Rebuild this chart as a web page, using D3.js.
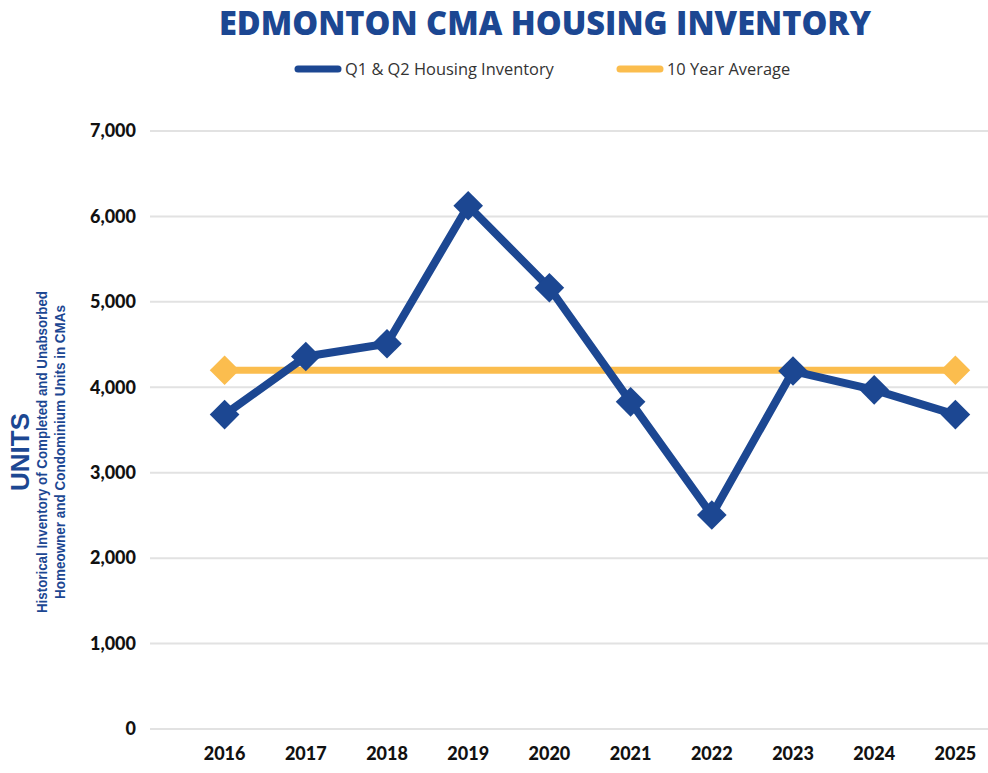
<!DOCTYPE html>
<html>
<head>
<meta charset="utf-8">
<script src="https://cdn.jsdelivr.net/npm/d3@7"></script>
<style>
  body { margin: 0; background: #fff; }
  svg { display: block; }
</style>
</head>
<body>
<div id="chart"></div>
<script>
(function () {
  'use strict';

  const years = ['2016', '2017', '2018', '2019', '2020', '2021', '2022', '2023', '2024', '2025'];
  const inventory = [3680, 4360, 4510, 6125, 5165, 3830, 2505, 4190, 3970, 3680];
  const tenYearAverage = [4200, 4200, 4200, 4200, 4200, 4200, 4200, 4200, 4200, 4200];
  const yTicks = [0, 1000, 2000, 3000, 4000, 5000, 6000, 7000];

  const BLUE = '#1c4792';
  const ORANGE = '#fbbd4e';
  const WIDTH = 988;
  const HEIGHT = 773;
  const FONT = 'Lato, "Open Sans", sans-serif';

  let svg = d3.select('#chart')
    .append('svg')
    .attr('width', WIDTH)
    .attr('height', HEIGHT);

  // Scales.
  let x = d3.scaleBand()
    .domain(years)
    .range([184, 996]);

  let y = d3.scaleLinear()
    .domain([0, 7000])
    .range([729, 131]);

  let cx = function (d) { return x(d) + x.bandwidth() / 2; };

  // Gridlines.
  svg.append('g')
    .selectAll('line')
    .data(yTicks)
    .enter()
    .append('line')
    .attr('x1', 150)
    .attr('x2', WIDTH)
    .attr('y1', d => y(d))
    .attr('y2', d => y(d))
    .style('stroke', '#e2e2e2')
    .style('stroke-width', 2);

  // Y axis labels.
  let yAxis = svg.append('g')
    .attr('transform', 'translate(136,0)')
    .call(d3.axisLeft(y).tickValues(yTicks).tickSize(0).tickPadding(0).tickFormat(d3.format(',')));
  yAxis.select('.domain').remove();
  yAxis.selectAll('text')
    .style('font-family', FONT)
    .style('font-weight', 900)
    .style('font-size', '18px')
    .style('fill', '#111');

  // X axis labels.
  let xAxis = svg.append('g')
    .attr('transform', 'translate(0,747)')
    .call(d3.axisBottom(x).tickSize(0).tickPadding(0));
  xAxis.select('.domain').remove();
  xAxis.selectAll('text')
    .style('font-family', FONT)
    .style('font-weight', 900)
    .style('font-size', '18px')
    .style('fill', '#111');

  let line = d3.line()
    .x((d, i) => cx(years[i]))
    .y(d => y(d));

  let diamond = d3.symbol().type(d3.symbolDiamond2).size(560);

  // 10 year average.
  svg.append('path')
    .datum(tenYearAverage)
    .attr('d', line)
    .style('fill', 'none')
    .style('stroke', ORANGE)
    .style('stroke-width', 7);

  svg.append('g')
    .selectAll('path')
    .data([0, tenYearAverage.length - 1])
    .enter()
    .append('path')
    .attr('d', diamond)
    .attr('transform', i => 'translate(' + cx(years[i]) + ',' + y(tenYearAverage[i]) + ')')
    .style('fill', ORANGE);

  // Housing inventory.
  svg.append('path')
    .datum(inventory)
    .attr('d', line)
    .style('fill', 'none')
    .style('stroke', BLUE)
    .style('stroke-width', 8)
    .style('stroke-linejoin', 'round');

  svg.append('g')
    .selectAll('path')
    .data(inventory)
    .enter()
    .append('path')
    .attr('d', diamond)
    .attr('transform', (d, i) => 'translate(' + cx(years[i]) + ',' + y(d) + ')')
    .style('fill', BLUE);

  // Title.
  svg.append('text')
    .attr('x', 545)
    .attr('y', 35)
    .attr('text-anchor', 'middle')
    .attr('textLength', 652)
    .attr('lengthAdjust', 'spacingAndGlyphs')
    .style('font-family', '"Open Sans", Lato, sans-serif')
    .style('font-weight', 800)
    .style('font-size', '33px')
    .style('fill', BLUE)
    .text('EDMONTON CMA HOUSING INVENTORY');

  // Legend.
  let legend = [
    {label: 'Q1 & Q2 Housing Inventory', color: BLUE, x: 298},
    {label: '10 Year Average', color: ORANGE, x: 620}
  ];
  let lg = svg.append('g')
    .selectAll('g')
    .data(legend)
    .enter()
    .append('g')
    .attr('transform', d => 'translate(' + d.x + ',69)');
  lg.append('line')
    .attr('x1', 0)
    .attr('x2', 40)
    .style('stroke', d => d.color)
    .style('stroke-width', 7)
    .style('stroke-linecap', 'round');
  lg.append('text')
    .attr('x', 47)
    .attr('dy', '0.35em')
    .style('font-family', '"Open Sans", sans-serif')
    .style('font-size', '16.4px')
    .style('fill', '#333')
    .text(d => d.label);

  // Y axis titles.
  let yTitle = svg.append('g')
    .attr('transform', 'translate(0,452) rotate(-90)');
  yTitle.append('text')
    .attr('x', 0)
    .attr('y', 29)
    .attr('text-anchor', 'middle')
    .style('font-family', '"Liberation Sans", Arial, sans-serif')
    .style('font-weight', 700)
    .style('font-size', '26px')
    .style('fill', BLUE)
    .text('UNITS');

  let subTitles = [
    {text: 'Historical Inventory of Completed and Unabsorbed', y: 47, len: 322},
    {text: 'Homeowner and Condominium Units in CMAs', y: 65, len: 294}
  ];
  yTitle.selectAll('text.sub')
    .data(subTitles)
    .enter()
    .append('text')
    .attr('class', 'sub')
    .attr('x', 0)
    .attr('y', d => d.y)
    .attr('text-anchor', 'middle')
    .attr('textLength', d => d.len)
    .attr('lengthAdjust', 'spacingAndGlyphs')
    .style('font-family', '"Liberation Sans", Arial, sans-serif')
    .style('font-weight', 700)
    .style('font-size', '14px')
    .style('fill', BLUE)
    .text(d => d.text);
}());
</script>
</body>
</html>
